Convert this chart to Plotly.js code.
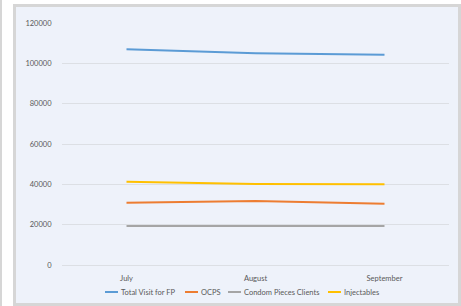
<!DOCTYPE html>
<html><head><meta charset="utf-8">
<script src="https://cdn.plot.ly/plotly-3.0.1.min.js"></script>
<style>
html,body{margin:0;padding:0;background:#fff;width:461px;height:306px;overflow:hidden;}
#strip{position:absolute;left:0;top:0;width:2px;height:306px;background:#D6D6D6;}
#frame{position:absolute;left:13px;top:4px;width:442px;height:296px;border:3px solid #D6D6D6;background:#EEF2FA;}
#chart{width:442px;height:296px;}
</style></head>
<body>
<div id="strip"></div>
<div id="frame"><div id="chart"></div></div>
<script>
const months = ["July", "August", "September"];
const seriesNames = ["Total Visit for FP", "OCPS", "Condom Pieces Clients", "Injectables"];
const totalVisitFP = [107000, 105000, 104300];
const ocps = [30900, 31700, 30400];
const condomClients = [19300, 19200, 19300];
const injectables = [41300, 40200, 40100];
const yTicks = [0, 20000, 40000, 60000, 80000, 100000, 120000];
const colors = ["#5B9BD5", "#ED7D31", "#A5A5A5", "#FFC000"];
const values = [totalVisitFP, ocps, condomClients, injectables];

const data = values.map((y, i) => ({
  x: months, y: y, name: seriesNames[i], type: 'scatter', mode: 'lines',
  line: {color: colors[i], width: 2}, showlegend: false
}));

// custom compact legend (Excel style), positioned in pixels of the figure
const W = 442, H = 296, mL = 46, mR = 9, mT = 16, mB = 38;
const pw = W - mL - mR, ph = H - mT - mB;
const px = x => (x - mL) / pw;
const py = y => (H - mB - y) / ph;
const legStarts = [89, 169, 212, 312];
const legY = 285;
const shapes = [], annotations = [];
legStarts.forEach((s, i) => {
  shapes.push({type: 'line', xref: 'paper', yref: 'paper', x0: px(s), x1: px(s + 13), y0: py(legY), y1: py(legY),
               line: {color: colors[i], width: 2}});
  annotations.push({xref: 'paper', yref: 'paper', x: px(s + 14), y: py(legY), xanchor: 'left', yanchor: 'middle',
                    text: seriesNames[i], showarrow: false, font: {size: 7.5, color: '#595959'}});
});

const layout = {
  width: W, height: H,
  margin: {l: mL, r: mR, t: mT, b: mB},
  paper_bgcolor: '#EEF2FA', plot_bgcolor: '#EEF2FA',
  font: {family: 'Lato, "Open Sans", sans-serif', size: 7.5, color: '#595959'},
  showlegend: false,
  shapes: shapes, annotations: annotations,
  xaxis: {type: 'category', range: [-0.5, 2.5], showgrid: false, zeroline: false, showline: false,
          ticks: 'outside', ticklen: 6, tickcolor: 'rgba(0,0,0,0)', fixedrange: true},
  yaxis: {range: [0, 120000], tickvals: yTicks, ticktext: yTicks.map(String), showgrid: true, gridcolor: '#DCDFE4', gridwidth: 1,
          zeroline: true, zerolinecolor: '#DCDFE4', zerolinewidth: 1, showline: false,
          ticks: 'outside', ticklen: 8, tickcolor: 'rgba(0,0,0,0)', fixedrange: true}
};
Plotly.newPlot('chart', data, layout, {displayModeBar: false, staticPlot: true});
</script>
</body></html>
